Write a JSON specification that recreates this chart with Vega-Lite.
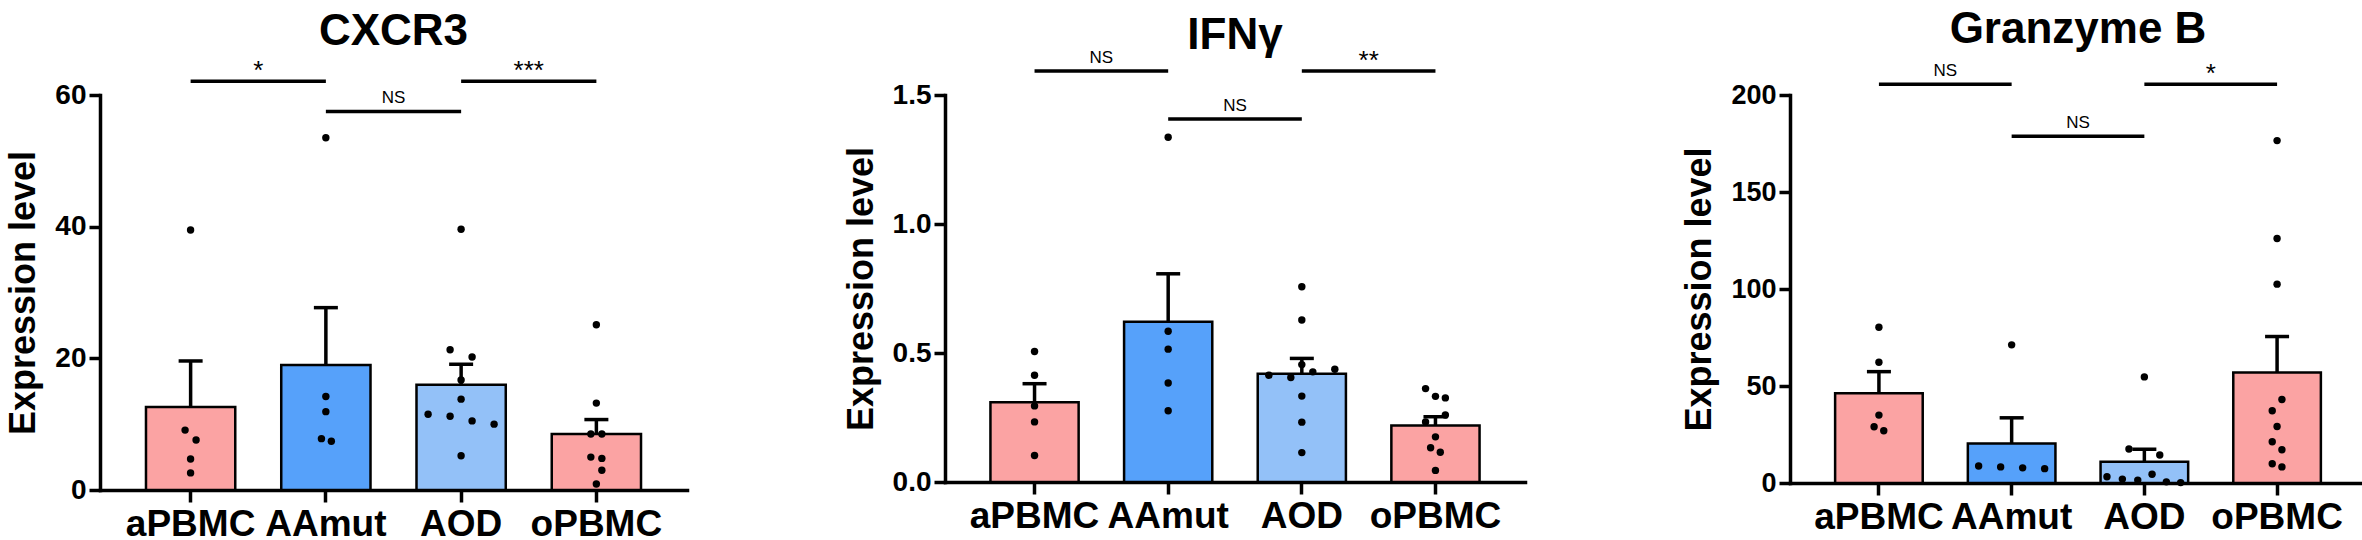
{
  "$schema": "https://vega.github.io/schema/vega-lite/v6.json",
  "padding": {"left": 5, "top": 8, "right": 0, "bottom": 0},
  "background": "white",
  "spacing": 156,
  "datasets": {
    "cxcr3_bars": [
      {"group": "aPBMC", "mean": 12.6, "top": 19.6},
      {"group": "AAmut", "mean": 19.0, "top": 27.7},
      {"group": "AOD", "mean": 16.0, "top": 19.1},
      {"group": "oPBMC", "mean": 8.5, "top": 10.7}
    ],
    "cxcr3_dots": [
      {"group": "aPBMC", "value": 39.5, "slot": 0},
      {"group": "aPBMC", "value": 9.1, "slot": -0.25},
      {"group": "aPBMC", "value": 7.6, "slot": 0.25},
      {"group": "aPBMC", "value": 4.7, "slot": 0},
      {"group": "aPBMC", "value": 2.6, "slot": 0},
      {"group": "AAmut", "value": 53.5, "slot": 0},
      {"group": "AAmut", "value": 14.2, "slot": 0},
      {"group": "AAmut", "value": 11.9, "slot": 0},
      {"group": "AAmut", "value": 7.8, "slot": -0.2},
      {"group": "AAmut", "value": 7.4, "slot": 0.25},
      {"group": "AOD", "value": 39.6, "slot": 0},
      {"group": "AOD", "value": 21.3, "slot": -0.5},
      {"group": "AOD", "value": 20.2, "slot": 0.5},
      {"group": "AOD", "value": 16.7, "slot": 0},
      {"group": "AOD", "value": 13.8, "slot": 0},
      {"group": "AOD", "value": 11.5, "slot": -1.5},
      {"group": "AOD", "value": 11.2, "slot": -0.5},
      {"group": "AOD", "value": 10.5, "slot": 0.5},
      {"group": "AOD", "value": 10.0, "slot": 1.5},
      {"group": "AOD", "value": 5.2, "slot": 0},
      {"group": "oPBMC", "value": 25.1, "slot": 0},
      {"group": "oPBMC", "value": 13.2, "slot": 0},
      {"group": "oPBMC", "value": 8.5, "slot": -0.25},
      {"group": "oPBMC", "value": 8.5, "slot": 0.25},
      {"group": "oPBMC", "value": 5.0, "slot": -0.25},
      {"group": "oPBMC", "value": 4.8, "slot": 0.25},
      {"group": "oPBMC", "value": 3.0, "slot": 0.25},
      {"group": "oPBMC", "value": 0.9, "slot": 0}
    ],
    "cxcr3_sig": [
      {"from": "aPBMC", "to": "AAmut", "pos": 62.1, "label": "*"},
      {"from": "AAmut", "to": "AOD", "pos": 57.5, "label": "NS"},
      {"from": "AOD", "to": "oPBMC", "pos": 62.1, "label": "***"}
    ],
    "ifng_bars": [
      {"group": "aPBMC", "mean": 0.309, "top": 0.381},
      {"group": "AAmut", "mean": 0.621, "top": 0.807},
      {"group": "AOD", "mean": 0.420, "top": 0.479},
      {"group": "oPBMC", "mean": 0.219, "top": 0.253}
    ],
    "ifng_dots": [
      {"group": "aPBMC", "value": 0.506, "slot": 0},
      {"group": "aPBMC", "value": 0.414, "slot": 0},
      {"group": "aPBMC", "value": 0.295, "slot": 0},
      {"group": "aPBMC", "value": 0.233, "slot": 0},
      {"group": "aPBMC", "value": 0.103, "slot": 0},
      {"group": "AAmut", "value": 1.336, "slot": 0},
      {"group": "AAmut", "value": 0.584, "slot": 0},
      {"group": "AAmut", "value": 0.515, "slot": 0},
      {"group": "AAmut", "value": 0.384, "slot": 0},
      {"group": "AAmut", "value": 0.276, "slot": 0},
      {"group": "AOD", "value": 0.757, "slot": 0},
      {"group": "AOD", "value": 0.628, "slot": 0},
      {"group": "AOD", "value": 0.455, "slot": 0},
      {"group": "AOD", "value": 0.414, "slot": -1.5},
      {"group": "AOD", "value": 0.405, "slot": -0.5},
      {"group": "AOD", "value": 0.427, "slot": 0.5},
      {"group": "AOD", "value": 0.437, "slot": 1.5},
      {"group": "AOD", "value": 0.333, "slot": 0},
      {"group": "AOD", "value": 0.232, "slot": 0},
      {"group": "AOD", "value": 0.114, "slot": 0},
      {"group": "oPBMC", "value": 0.362, "slot": -0.45},
      {"group": "oPBMC", "value": 0.332, "slot": 0},
      {"group": "oPBMC", "value": 0.326, "slot": 0.45},
      {"group": "oPBMC", "value": 0.260, "slot": 0.45},
      {"group": "oPBMC", "value": 0.233, "slot": -0.45},
      {"group": "oPBMC", "value": 0.175, "slot": 0},
      {"group": "oPBMC", "value": 0.133, "slot": -0.22},
      {"group": "oPBMC", "value": 0.115, "slot": 0.22},
      {"group": "oPBMC", "value": 0.045, "slot": 0}
    ],
    "ifng_sig": [
      {"from": "aPBMC", "to": "AAmut", "pos": 1.593, "label": "NS"},
      {"from": "AAmut", "to": "AOD", "pos": 1.407, "label": "NS"},
      {"from": "AOD", "to": "oPBMC", "pos": 1.593, "label": "**"}
    ],
    "gzmb_bars": [
      {"group": "aPBMC", "mean": 46.2, "top": 57.4},
      {"group": "AAmut", "mean": 20.3, "top": 33.6},
      {"group": "AOD", "mean": 11.0, "top": 17.4},
      {"group": "oPBMC", "mean": 57.0, "top": 75.5}
    ],
    "gzmb_dots": [
      {"group": "aPBMC", "value": 80.3, "slot": 0},
      {"group": "aPBMC", "value": 62.2, "slot": 0},
      {"group": "aPBMC", "value": 35.0, "slot": 0},
      {"group": "aPBMC", "value": 29.0, "slot": -0.22},
      {"group": "aPBMC", "value": 26.9, "slot": 0.22},
      {"group": "AAmut", "value": 71.2, "slot": 0},
      {"group": "AAmut", "value": 8.8, "slot": -1.5},
      {"group": "AAmut", "value": 8.3, "slot": -0.5},
      {"group": "AAmut", "value": 7.8, "slot": 0.5},
      {"group": "AAmut", "value": 7.4, "slot": 1.5},
      {"group": "AOD", "value": 54.7, "slot": 0},
      {"group": "AOD", "value": 17.5, "slot": -0.7},
      {"group": "AOD", "value": 14.4, "slot": 0.7},
      {"group": "AOD", "value": 4.5, "slot": 0.35},
      {"group": "AOD", "value": 3.2, "slot": -1.7},
      {"group": "AOD", "value": 2.0, "slot": -1.0},
      {"group": "AOD", "value": 1.5, "slot": -0.3},
      {"group": "AOD", "value": 0.6, "slot": 1.0},
      {"group": "AOD", "value": 0.2, "slot": 1.65},
      {"group": "oPBMC", "value": 176.5, "slot": 0},
      {"group": "oPBMC", "value": 126.0, "slot": 0},
      {"group": "oPBMC", "value": 102.5, "slot": 0},
      {"group": "oPBMC", "value": 43.0, "slot": 0.22},
      {"group": "oPBMC", "value": 37.2, "slot": -0.22},
      {"group": "oPBMC", "value": 29.1, "slot": 0},
      {"group": "oPBMC", "value": 21.3, "slot": -0.22},
      {"group": "oPBMC", "value": 17.1, "slot": 0.22},
      {"group": "oPBMC", "value": 9.9, "slot": -0.22},
      {"group": "oPBMC", "value": 8.3, "slot": 0.22}
    ],
    "gzmb_sig": [
      {"from": "aPBMC", "to": "AAmut", "pos": 205.6, "label": "NS"},
      {"from": "AAmut", "to": "AOD", "pos": 178.7, "label": "NS"},
      {"from": "AOD", "to": "oPBMC", "pos": 205.6, "label": "*"}
    ]
  },
  "hconcat": [
    {
      "width": 587,
      "height": 395,
      "title": {"text": "CXCR3", "offset": 4},
      "resolve": {"scale": {"xOffset": "independent"}},
      "layer": [
        {
          "data": {"name": "cxcr3_bars"},
          "mark": {"type": "bar", "stroke": "black", "strokeWidth": 2.5},
          "encoding": {
            "x": {"field": "group", "type": "nominal", "title": null, "scale": {"domain": ["aPBMC", "AAmut", "AOD", "oPBMC"], "paddingInner": 0.34, "paddingOuter": 0.34}},
            "y": {"field": "mean", "type": "quantitative", "title": "Expression level", "scale": {"domain": [0, 60], "nice": false}, "axis": {"values": [0, 20, 40, 60]}},
            "color": {"field": "group", "type": "nominal", "legend": null, "scale": {"domain": ["aPBMC", "AAmut", "AOD", "oPBMC"], "range": ["#FBA3A3", "#56A1FA", "#93C1F8", "#FBA3A3"]}}
          }
        },
        {
          "data": {"name": "cxcr3_bars"},
          "mark": {"type": "rule", "color": "black", "strokeWidth": 3.5},
          "encoding": {
            "x": {"field": "group", "type": "nominal", "title": null},
            "y": {"field": "mean", "type": "quantitative", "title": "Expression level"},
            "y2": {"field": "top"}
          }
        },
        {
          "data": {"name": "cxcr3_bars"},
          "mark": {"type": "tick", "color": "black", "size": 24, "thickness": 3.5, "opacity": 1},
          "encoding": {
            "x": {"field": "group", "type": "nominal", "title": null},
            "y": {"field": "top", "type": "quantitative", "title": "Expression level"}
          }
        },
        {
          "data": {"name": "cxcr3_dots"},
          "mark": {"type": "circle", "color": "black", "size": 55, "opacity": 1},
          "encoding": {
            "x": {"field": "group", "type": "nominal", "title": null},
            "xOffset": {"field": "slot", "type": "quantitative", "scale": {"domain": [-1, 1], "range": [22.6, 66.6]}},
            "y": {"field": "value", "type": "quantitative", "title": "Expression level"}
          }
        },
        {
          "data": {"name": "cxcr3_sig"},
          "mark": {"type": "rule", "color": "black", "strokeWidth": 3.5},
          "encoding": {
            "x": {"field": "from", "type": "nominal", "title": null},
            "x2": {"field": "to"},
            "y": {"field": "pos", "type": "quantitative", "title": "Expression level"}
          }
        },
        {
          "data": {"name": "cxcr3_sig"},
          "transform": [{"filter": "datum.label == 'NS'"}],
          "mark": {"type": "text", "fontSize": 17, "baseline": "alphabetic", "dy": -8, "color": "black"},
          "encoding": {
            "x": {"field": "from", "type": "nominal", "title": null, "bandPosition": 1.258},
            "y": {"field": "pos", "type": "quantitative", "title": "Expression level"},
            "text": {"field": "label"}
          }
        },
        {
          "data": {"name": "cxcr3_sig"},
          "transform": [{"filter": "datum.label != 'NS'"}],
          "mark": {"type": "text", "fontSize": 26, "baseline": "alphabetic", "dy": -2, "color": "black"},
          "encoding": {
            "x": {"field": "from", "type": "nominal", "title": null, "bandPosition": 1.258},
            "y": {"field": "pos", "type": "quantitative", "title": "Expression level"},
            "text": {"field": "label"}
          }
        }
      ]
    },
    {
      "width": 580,
      "height": 387,
      "title": {"text": "IFNγ", "offset": -10},
      "resolve": {"scale": {"xOffset": "independent"}},
      "layer": [
        {
          "data": {"name": "ifng_bars"},
          "mark": {"type": "bar", "stroke": "black", "strokeWidth": 2.5},
          "encoding": {
            "x": {"field": "group", "type": "nominal", "title": null, "scale": {"domain": ["aPBMC", "AAmut", "AOD", "oPBMC"], "paddingInner": 0.34, "paddingOuter": 0.34}},
            "y": {"field": "mean", "type": "quantitative", "title": "Expression level", "scale": {"domain": [0, 1.5], "nice": false}, "axis": {"values": [0, 0.5, 1.0, 1.5], "format": ".1f"}},
            "color": {"field": "group", "type": "nominal", "legend": null, "scale": {"domain": ["aPBMC", "AAmut", "AOD", "oPBMC"], "range": ["#FBA3A3", "#56A1FA", "#93C1F8", "#FBA3A3"]}}
          }
        },
        {
          "data": {"name": "ifng_bars"},
          "mark": {"type": "rule", "color": "black", "strokeWidth": 3.5},
          "encoding": {
            "x": {"field": "group", "type": "nominal", "title": null},
            "y": {"field": "mean", "type": "quantitative", "title": "Expression level"},
            "y2": {"field": "top"}
          }
        },
        {
          "data": {"name": "ifng_bars"},
          "mark": {"type": "tick", "color": "black", "size": 24, "thickness": 3.5, "opacity": 1},
          "encoding": {
            "x": {"field": "group", "type": "nominal", "title": null},
            "y": {"field": "top", "type": "quantitative", "title": "Expression level"}
          }
        },
        {
          "data": {"name": "ifng_dots"},
          "mark": {"type": "circle", "color": "black", "size": 55, "opacity": 1},
          "encoding": {
            "x": {"field": "group", "type": "nominal", "title": null},
            "xOffset": {"field": "slot", "type": "quantitative", "scale": {"domain": [-1, 1], "range": [22.1, 66.1]}},
            "y": {"field": "value", "type": "quantitative", "title": "Expression level"}
          }
        },
        {
          "data": {"name": "ifng_sig"},
          "mark": {"type": "rule", "color": "black", "strokeWidth": 3.5},
          "encoding": {
            "x": {"field": "from", "type": "nominal", "title": null},
            "x2": {"field": "to"},
            "y": {"field": "pos", "type": "quantitative", "title": "Expression level"}
          }
        },
        {
          "data": {"name": "ifng_sig"},
          "transform": [{"filter": "datum.label == 'NS'"}],
          "mark": {"type": "text", "fontSize": 17, "baseline": "alphabetic", "dy": -8, "color": "black"},
          "encoding": {
            "x": {"field": "from", "type": "nominal", "title": null, "bandPosition": 1.258},
            "y": {"field": "pos", "type": "quantitative", "title": "Expression level"},
            "text": {"field": "label"}
          }
        },
        {
          "data": {"name": "ifng_sig"},
          "transform": [{"filter": "datum.label != 'NS'"}],
          "mark": {"type": "text", "fontSize": 26, "baseline": "alphabetic", "dy": -2, "color": "black"},
          "encoding": {
            "x": {"field": "from", "type": "nominal", "title": null, "bandPosition": 1.258},
            "y": {"field": "pos", "type": "quantitative", "title": "Expression level"},
            "text": {"field": "label"}
          }
        }
      ]
    },
    {
      "width": 576,
      "height": 388,
      "title": {"text": "Granzyme B", "offset": 9},
      "resolve": {"scale": {"xOffset": "independent"}},
      "layer": [
        {
          "data": {"name": "gzmb_bars"},
          "mark": {"type": "bar", "stroke": "black", "strokeWidth": 2.5},
          "encoding": {
            "x": {"field": "group", "type": "nominal", "title": null, "scale": {"domain": ["aPBMC", "AAmut", "AOD", "oPBMC"], "paddingInner": 0.34, "paddingOuter": 0.34}},
            "y": {"field": "mean", "type": "quantitative", "title": "Expression level", "scale": {"domain": [0, 200], "nice": false}, "axis": {"values": [0, 50, 100, 150, 200], "labelFontSize": 27}},
            "color": {"field": "group", "type": "nominal", "legend": null, "scale": {"domain": ["aPBMC", "AAmut", "AOD", "oPBMC"], "range": ["#FBA3A3", "#56A1FA", "#93C1F8", "#FBA3A3"]}}
          }
        },
        {
          "data": {"name": "gzmb_bars"},
          "mark": {"type": "rule", "color": "black", "strokeWidth": 3.5},
          "encoding": {
            "x": {"field": "group", "type": "nominal", "title": null},
            "y": {"field": "mean", "type": "quantitative", "title": "Expression level"},
            "y2": {"field": "top"}
          }
        },
        {
          "data": {"name": "gzmb_bars"},
          "mark": {"type": "tick", "color": "black", "size": 24, "thickness": 3.5, "opacity": 1},
          "encoding": {
            "x": {"field": "group", "type": "nominal", "title": null},
            "y": {"field": "top", "type": "quantitative", "title": "Expression level"}
          }
        },
        {
          "data": {"name": "gzmb_dots"},
          "mark": {"type": "circle", "color": "black", "size": 55, "opacity": 1},
          "encoding": {
            "x": {"field": "group", "type": "nominal", "title": null},
            "xOffset": {"field": "slot", "type": "quantitative", "scale": {"domain": [-1, 1], "range": [21.8, 65.8]}},
            "y": {"field": "value", "type": "quantitative", "title": "Expression level"}
          }
        },
        {
          "data": {"name": "gzmb_sig"},
          "mark": {"type": "rule", "color": "black", "strokeWidth": 3.5},
          "encoding": {
            "x": {"field": "from", "type": "nominal", "title": null},
            "x2": {"field": "to"},
            "y": {"field": "pos", "type": "quantitative", "title": "Expression level"}
          }
        },
        {
          "data": {"name": "gzmb_sig"},
          "transform": [{"filter": "datum.label == 'NS'"}],
          "mark": {"type": "text", "fontSize": 17, "baseline": "alphabetic", "dy": -8, "color": "black"},
          "encoding": {
            "x": {"field": "from", "type": "nominal", "title": null, "bandPosition": 1.258},
            "y": {"field": "pos", "type": "quantitative", "title": "Expression level"},
            "text": {"field": "label"}
          }
        },
        {
          "data": {"name": "gzmb_sig"},
          "transform": [{"filter": "datum.label != 'NS'"}],
          "mark": {"type": "text", "fontSize": 26, "baseline": "alphabetic", "dy": -2, "color": "black"},
          "encoding": {
            "x": {"field": "from", "type": "nominal", "title": null, "bandPosition": 1.258},
            "y": {"field": "pos", "type": "quantitative", "title": "Expression level"},
            "text": {"field": "label"}
          }
        }
      ]
    }
  ],
  "config": {
    "view": {"stroke": null},
    "font": "Liberation Sans",
    "title": {"fontSize": 44, "fontWeight": "bold", "font": "Liberation Sans", "color": "black", "anchor": "middle"},
    "text": {"font": "Liberation Sans"},
    "axis": {
      "grid": false,
      "domainColor": "black",
      "domainWidth": 3.5,
      "domainCap": "square",
      "tickColor": "black",
      "tickWidth": 3.5,
      "labelColor": "black",
      "labelFont": "Liberation Sans",
      "labelFontWeight": "bold",
      "titleColor": "black",
      "titleFont": "Liberation Sans",
      "titleFontWeight": "bold"
    },
    "axisX": {"labelAngle": 0, "labelFontSize": 37, "tickSize": 12, "labelPadding": 4, "labelOverlap": false},
    "axisY": {"labelFontSize": 28, "tickSize": 11, "labelPadding": 3, "titleFontSize": 36, "titlePadding": 12}
  }
}
